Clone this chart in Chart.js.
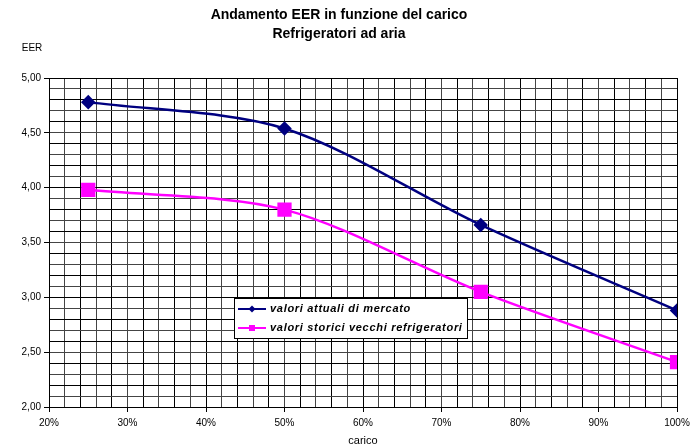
<!DOCTYPE html>
<html>
<head>
<meta charset="utf-8">
<script src="https://cdn.jsdelivr.net/npm/chart.js@4.4.1/dist/chart.umd.min.js"></script>
<style>
  html, body { margin: 0; padding: 0; background: #fff; }
  #wrap { width: 693px; height: 448px; position: relative; }
</style>
</head>
<body>
<div id="wrap"><canvas id="myChart" width="693" height="448"></canvas></div>
<script>
// data
const carico = [25, 50, 75, 100];
const attuali = [4.78, 4.54, 3.66, 2.88];
const storici = [3.98, 3.80, 3.05, 2.41];
const labels = ["valori attuali di mercato", "valori storici vecchi refrigeratori"];
const titolo = ["Andamento EER in funzione del carico", "Refrigeratori ad aria"];

const font = "'Liberation Sans', Arial, sans-serif";

function punti(valori) {
    return carico.map(function(c, i) { return { x: c, y: valori[i] }; });
}

// titolo, EER label and legend box
const extraText = {
    id: "extraText",
    afterDraw: function(chart) {
        const ctx = chart.ctx;
        const area = chart.chartArea;
        ctx.save();
        ctx.fillStyle = "#000";
        ctx.textAlign = "center";
        ctx.textBaseline = "middle";
        ctx.font = "bold 14px " + font;
        ctx.fillText(titolo[0], 339, 15);
        ctx.fillText(titolo[1], 339, 34);

        ctx.font = "10px " + font;
        ctx.fillText("EER", 32, 48);

        // legend box
        const lx = area.left + 185;
        const ly = area.top + 220;
        const lw = 233;
        const lh = 40;
        ctx.fillStyle = "#fff";
        ctx.fillRect(lx, ly, lw, lh);
        ctx.strokeStyle = "#000";
        ctx.lineWidth = 1;
        ctx.strokeRect(lx + 0.5, ly + 0.5, lw, lh);

        const ds = chart.data.datasets;
        ctx.font = "italic bold 11px " + font;
        ctx.textAlign = "left";
        for (let i = 0; i < ds.length; i++) {
            const yy = ly + 11 + i * 19;
            ctx.strokeStyle = ds[i].borderColor;
            ctx.lineWidth = 2;
            ctx.beginPath();
            ctx.moveTo(lx + 4, yy);
            ctx.lineTo(lx + 32, yy);
            ctx.stroke();
            ctx.fillStyle = ds[i].borderColor;
            if (i == 0) {
                ctx.beginPath();
                ctx.moveTo(lx + 18, yy - 3.5);
                ctx.lineTo(lx + 21.5, yy);
                ctx.lineTo(lx + 18, yy + 3.5);
                ctx.lineTo(lx + 14.5, yy);
                ctx.closePath();
                ctx.fill();
            } else {
                ctx.fillRect(lx + 15, yy - 3, 6, 6);
            }
            ctx.fillStyle = "#000";
            ctx.letterSpacing = "0.7px";
            ctx.fillText(ds[i].label, lx + 36, yy);
        }
        ctx.restore();
    }
};

const ctx = document.getElementById("myChart");

let data = {
    datasets: [{
        label: labels[0],
        data: punti(attuali),
        borderColor: "#000080",
        backgroundColor: "#000080",
        borderWidth: 2.5,
        pointStyle: "rectRot",
        pointRadius: 5.5,
        tension: 0.3
    }, {
        label: labels[1],
        data: punti(storici),
        borderColor: "#ff00ff",
        backgroundColor: "#ff00ff",
        borderWidth: 2.5,
        pointStyle: "rect",
        pointRadius: 8.3,
        tension: 0.3
    }]
};

let config = {
    type: "line",
    data: data,
    plugins: [extraText],
    options: {
        responsive: false,
        animation: false,
        layout: { padding: { top: 78, left: 0, right: 16, bottom: 0 } },
        plugins: {
            legend: { display: false },
            title: { display: false },
            tooltip: { enabled: false }
        },
        scales: {
            x: {
                type: "linear",
                min: 20,
                max: 100,
                border: { color: "#000", width: 1 },
                grid: {
                    color: function(c) { return c.index % 2 ? "#444" : "#000"; },
                    tickLength: 5,
                    tickColor: function(c) { return c.tick.value % 10 == 0 ? "#000" : "rgba(0,0,0,0)"; }
                },
                ticks: {
                    stepSize: 2,
                    autoSkip: false,
                    maxRotation: 0,
                    color: "#000",
                    font: { family: font, size: 10 },
                    padding: 5,
                    callback: function(v) { return v % 10 == 0 ? v + "%" : ""; }
                },
                title: {
                    display: true,
                    text: "carico",
                    color: "#000",
                    font: { family: font, size: 11 },
                    padding: { top: 2, bottom: 0 }
                },
                afterFit: function(s) {
                    s.height = 41;
                    s.paddingLeft = 0;
                    s.paddingRight = 0;
                }
            },
            y: {
                min: 2,
                max: 5,
                border: { color: "#000", width: 1 },
                grid: {
                    color: function(c) { return c.index % 2 ? "#444" : "#000"; },
                    tickLength: 5,
                    tickColor: function(c) { return Math.round(c.tick.value * 10) % 5 == 0 ? "#000" : "rgba(0,0,0,0)"; }
                },
                ticks: {
                    stepSize: 0.1,
                    autoSkip: false,
                    color: "#000",
                    font: { family: font, size: 10 },
                    padding: 3,
                    callback: function(v) {
                        return Math.round(v * 10) % 5 == 0 ? v.toFixed(2).replace(".", ",") : "";
                    }
                },
                afterFit: function(s) {
                    s.width = 49;
                    s.paddingTop = 0;
                    s.paddingBottom = 0;
                }
            }
        }
    }
};

let myChart = new Chart(ctx, config);
</script>
</body>
</html>
